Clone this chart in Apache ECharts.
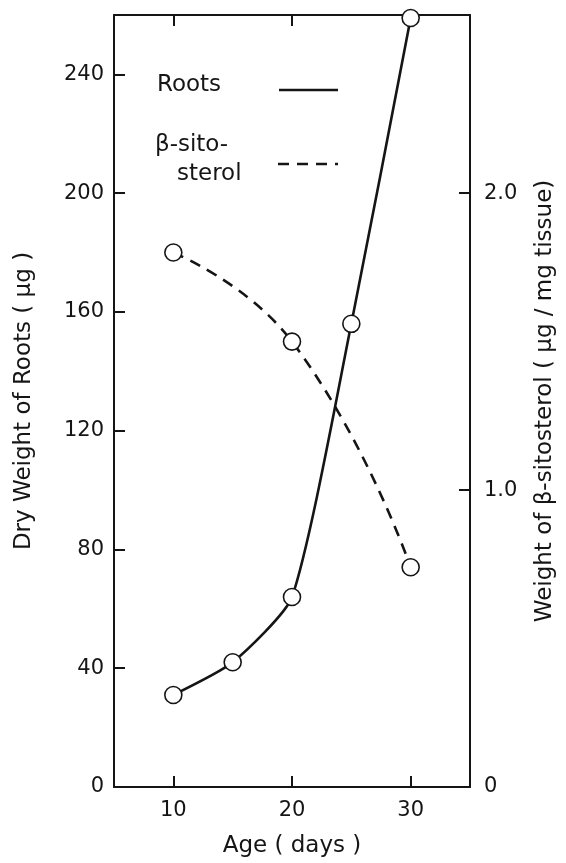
<!DOCTYPE html>
<html>
<head>
<meta charset="utf-8">
<script src="https://cdn.jsdelivr.net/npm/echarts@6/dist/echarts.min.js"></script>
<style>
html,body{margin:0;padding:0;background:#fff;}
#chart{width:566px;height:863px;}
</style>
</head>
<body>
<div id="chart"></div>
<script>
// Data
const ageDays = [10, 15, 20, 25, 30];
const rootsDryWeight = [31, 42, 64, 156, 259];           // µg (left axis)
const sitosterolAge = [10, 20, 30];
const sitosterolWeight = [1.80, 1.50, 0.74];              // µg/mg tissue (right axis)
const xTickValues = [10, 20, 30];
const xTopTickValues = [10, 20];
const leftLabelValues = [0, 40, 80, 120, 160, 200, 240];
const leftTickValues = [40, 80, 120, 160, 200, 240];
const rightLabelValues = [0, 1, 2];
const rightTickValues = [1, 2];

const INK = '#151515';
const FONT = 'DejaVu Sans';

const chart = echarts.init(document.getElementById('chart'), null, {renderer: 'canvas'});

const rootsData = ageDays.map((a, i) => [a, rootsDryWeight[i]]);
const sitoData = sitosterolAge.map((a, i) => [a, sitosterolWeight[i]]);

const option = {
  animation: false,
  backgroundColor: '#fff',
  grid: {left: 114, right: 96, top: 15, bottom: 74, containLabel: false},
  xAxis: [
    {
      type: 'value', position: 'bottom', min: 5, max: 35,
      name: 'Age ( days )', nameLocation: 'middle', nameGap: 48,
      nameTextStyle: {fontFamily: FONT, fontSize: 23, color: INK},
      axisLine: {show: true, lineStyle: {color: INK, width: 2}},
      axisTick: {show: true, inside: true, length: 11, customValues: xTickValues, lineStyle: {color: INK, width: 2}},
      axisLabel: {show: true, customValues: xTickValues, margin: 13, fontFamily: FONT, fontSize: 21, color: INK},
      splitLine: {show: false}
    },
    {
      type: 'value', position: 'top', min: 5, max: 35,
      axisLine: {show: true, onZero: false, lineStyle: {color: INK, width: 2}},
      axisTick: {show: true, inside: true, length: 11, customValues: xTopTickValues, lineStyle: {color: INK, width: 2}},
      axisLabel: {show: false},
      splitLine: {show: false}
    }
  ],
  yAxis: [
    {
      type: 'value', position: 'left', min: 0, max: 260,
      name: 'Dry Weight of Roots ( μg )', nameLocation: 'middle', nameGap: 78, nameRotate: 90,
      nameTextStyle: {fontFamily: FONT, fontSize: 23, color: INK},
      axisLine: {show: true, onZero: false, lineStyle: {color: INK, width: 2}},
      axisTick: {show: true, inside: true, length: 11, customValues: leftTickValues, lineStyle: {color: INK, width: 2}},
      axisLabel: {show: true, customValues: leftLabelValues, margin: 10, fontFamily: FONT, fontSize: 21, color: INK},
      splitLine: {show: false}
    },
    {
      type: 'value', position: 'right', min: 0, max: 2.6,
      name: 'Weight of β-sitosterol ( μg / mg tissue)', nameLocation: 'middle', nameGap: 64, nameRotate: 90,
      nameTextStyle: {fontFamily: FONT, fontSize: 23, color: INK},
      axisLine: {show: true, onZero: false, lineStyle: {color: INK, width: 2}},
      axisTick: {show: true, inside: true, length: 11, customValues: rightTickValues, lineStyle: {color: INK, width: 2}},
      axisLabel: {show: true, customValues: rightLabelValues, margin: 14, fontFamily: FONT, fontSize: 21, color: INK,
        formatter: v => v === 0 ? '0' : v.toFixed(1)},
      splitLine: {show: false}
    }
  ],
  series: [
    {
      name: 'Roots', type: 'line', xAxisIndex: 0, yAxisIndex: 0,
      data: rootsData, smooth: 0.2,
      symbol: 'circle', symbolSize: 17,
      lineStyle: {color: INK, width: 2.6},
      itemStyle: {color: '#fff', borderColor: INK, borderWidth: 1.6},
      z: 3
    },
    {
      name: 'β-sitosterol', type: 'line', xAxisIndex: 0, yAxisIndex: 1,
      data: sitoData, smooth: 0.5,
      symbol: 'circle', symbolSize: 17,
      lineStyle: {color: INK, width: 2.6, type: [11, 8]},
      itemStyle: {color: '#fff', borderColor: INK, borderWidth: 1.6},
      z: 3
    }
  ],
  graphic: [
    {type: 'text', left: 157, top: 74, style: {text: 'Roots', fontFamily: FONT, fontSize: 23, fill: INK}},
    {type: 'line', shape: {x1: 279, y1: 90, x2: 338, y2: 90}, style: {stroke: INK, lineWidth: 2.6}},
    {type: 'text', left: 155, top: 134, style: {text: 'β-sito-', fontFamily: FONT, fontSize: 23, fill: INK}},
    {type: 'text', left: 177, top: 163, style: {text: 'sterol', fontFamily: FONT, fontSize: 23, fill: INK}},
    {type: 'line', shape: {x1: 278, y1: 164, x2: 338, y2: 164}, style: {stroke: INK, lineWidth: 2.6, lineDash: [11, 8]}}
  ]
};
chart.setOption(option);
</script>
</body>
</html>
